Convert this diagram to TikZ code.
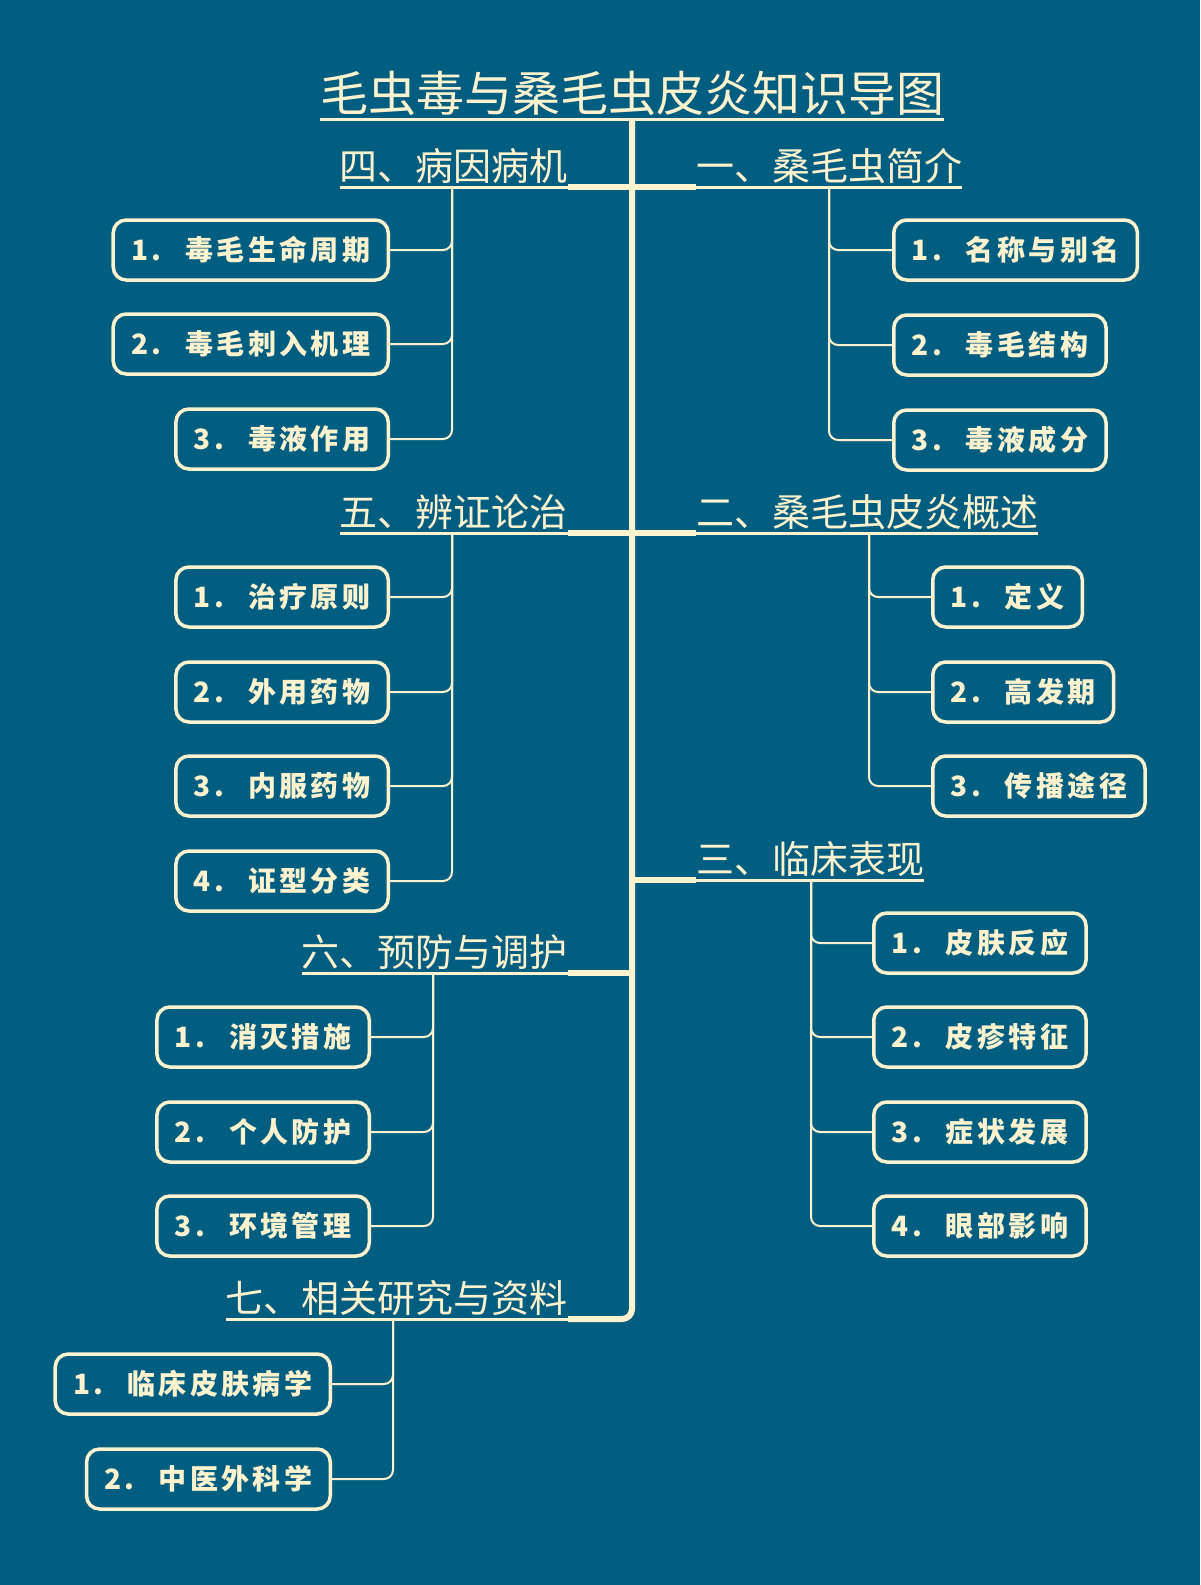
\documentclass[tikz,border=0pt]{standalone}
\usepackage{fontspec}
\setmainfont{Noto Sans CJK SC}
\usetikzlibrary{positioning,calc}
\definecolor{deepsea}{RGB}{1,94,128}
\definecolor{cream}{RGB}{255,242,206}
\tikzset{
  leaf/.style={draw=cream, line width=3.5pt, rounded corners=13pt, text=cream,
    font=\fontsize{28}{30}\selectfont\bfseries\addfontfeature{LetterSpace=12},
    minimum height=60pt, inner xsep=18pt},
  head/.style={text=cream, font=\fontsize{38}{40}\selectfont, inner xsep=0pt, inner ysep=3pt},
  uline/.style={cream, line width=3pt},
  trunk/.style={cream, line width=6pt},
  twig/.style={cream, line width=2pt, rounded corners=9pt},
}

\begin{document}
\begin{tikzpicture}[x=1pt,y=-1pt]
    \fill[deepsea] (0,0) rectangle (1200,1585);
    \useasboundingbox (0,0) rectangle (1200,1585);

    \node[head, font=\fontsize{48}{50}\selectfont, anchor=south] (h0) at (632,119) {毛虫毒与桑毛虫皮炎知识导图};
    \node[head, anchor=south east] (h4) at (568,187) {四、病因病机};
    \node[head, anchor=south west] (h1) at (696,187) {一、桑毛虫简介};
    \node[head, anchor=south east] (h5) at (568,533) {五、辨证论治};
    \node[head, anchor=south west] (h2) at (696,533) {二、桑毛虫皮炎概述};
    \node[head, anchor=south west] (h3) at (696,880) {三、临床表现};
    \node[head, anchor=south east] (h6) at (568,973) {六、预防与调护};
    \node[head, anchor=south east] (h7) at (568,1319) {七、相关研究与资料};

    \foreach \h in {h0,h1,h2,h3,h4,h5,h6,h7}
        \draw[uline] (\h.south west) -- (\h.south east);

    \coordinate (t3) at (632,880);
    \coordinate (t6) at (632,973);
    \draw[trunk, rounded corners=10pt] (h0.south) -- (h0.south |- h7.south) -- (h7.south east);
    \draw[trunk] (h4.south east) -- (h1.south west);
    \draw[trunk] (h5.south east) -- (h2.south west);
    \draw[trunk] (t3) -- (h3.south west);
    \draw[trunk] (h6.south east) -- (t6);

    \coordinate (s4) at (452,187);
    \coordinate (s1) at (829,187);
    \coordinate (s5) at (452,533);
    \coordinate (s2) at (869,533);
    \coordinate (s3) at (811,880);
    \coordinate (s6) at (433,973);
    \coordinate (s7) at (393,1319);

    \node[leaf, anchor=east] (l41) at (390,250) {1.\hspace{24pt}毒毛生命周期};
    \node[leaf, anchor=east] (l42) at (390,344) {2.\hspace{24pt}毒毛刺入机理};
    \node[leaf, anchor=east] (l43) at (390,439) {3.\hspace{24pt}毒液作用};

    \node[leaf, anchor=west] (l11) at (892,250) {1.\hspace{24pt}名称与别名};
    \node[leaf, anchor=west] (l12) at (892,345) {2.\hspace{24pt}毒毛结构};
    \node[leaf, anchor=west] (l13) at (892,440) {3.\hspace{24pt}毒液成分};

    \node[leaf, anchor=east] (l51) at (390,597) {1.\hspace{24pt}治疗原则};
    \node[leaf, anchor=east] (l52) at (390,692) {2.\hspace{24pt}外用药物};
    \node[leaf, anchor=east] (l53) at (390,786) {3.\hspace{24pt}内服药物};
    \node[leaf, anchor=east] (l54) at (390,881) {4.\hspace{24pt}证型分类};

    \node[leaf, anchor=west] (l21) at (931,597) {1.\hspace{24pt}定义};
    \node[leaf, anchor=west] (l22) at (931,692) {2.\hspace{24pt}高发期};
    \node[leaf, anchor=west] (l23) at (931,786) {3.\hspace{24pt}传播途径};

    \node[leaf, anchor=west] (l31) at (872,943) {1.\hspace{24pt}皮肤反应};
    \node[leaf, anchor=west] (l32) at (872,1037) {2.\hspace{24pt}皮疹特征};
    \node[leaf, anchor=west] (l33) at (872,1132) {3.\hspace{24pt}症状发展};
    \node[leaf, anchor=west] (l34) at (872,1226) {4.\hspace{24pt}眼部影响};

    \node[leaf, anchor=east] (l61) at (371,1037) {1.\hspace{24pt}消灭措施};
    \node[leaf, anchor=east] (l62) at (371,1132) {2.\hspace{24pt}个人防护};
    \node[leaf, anchor=east] (l63) at (371,1226) {3.\hspace{24pt}环境管理};

    \node[leaf, anchor=east] (l71) at (332,1384) {1.\hspace{24pt}临床皮肤病学};
    \node[leaf, anchor=east] (l72) at (332,1479) {2.\hspace{24pt}中医外科学};

    \draw[twig] (s4) |- (l41.east);
    \draw[twig] (s4) |- (l42.east);
    \draw[twig] (s4) |- (l43.east);
    \draw[twig] (s1) |- (l11.west);
    \draw[twig] (s1) |- (l12.west);
    \draw[twig] (s1) |- (l13.west);
    \draw[twig] (s5) |- (l51.east);
    \draw[twig] (s5) |- (l52.east);
    \draw[twig] (s5) |- (l53.east);
    \draw[twig] (s5) |- (l54.east);
    \draw[twig] (s2) |- (l21.west);
    \draw[twig] (s2) |- (l22.west);
    \draw[twig] (s2) |- (l23.west);
    \draw[twig] (s3) |- (l31.west);
    \draw[twig] (s3) |- (l32.west);
    \draw[twig] (s3) |- (l33.west);
    \draw[twig] (s3) |- (l34.west);
    \draw[twig] (s6) |- (l61.east);
    \draw[twig] (s6) |- (l62.east);
    \draw[twig] (s6) |- (l63.east);
    \draw[twig] (s7) |- (l71.east);
    \draw[twig] (s7) |- (l72.east);
\end{tikzpicture}
\end{document}
